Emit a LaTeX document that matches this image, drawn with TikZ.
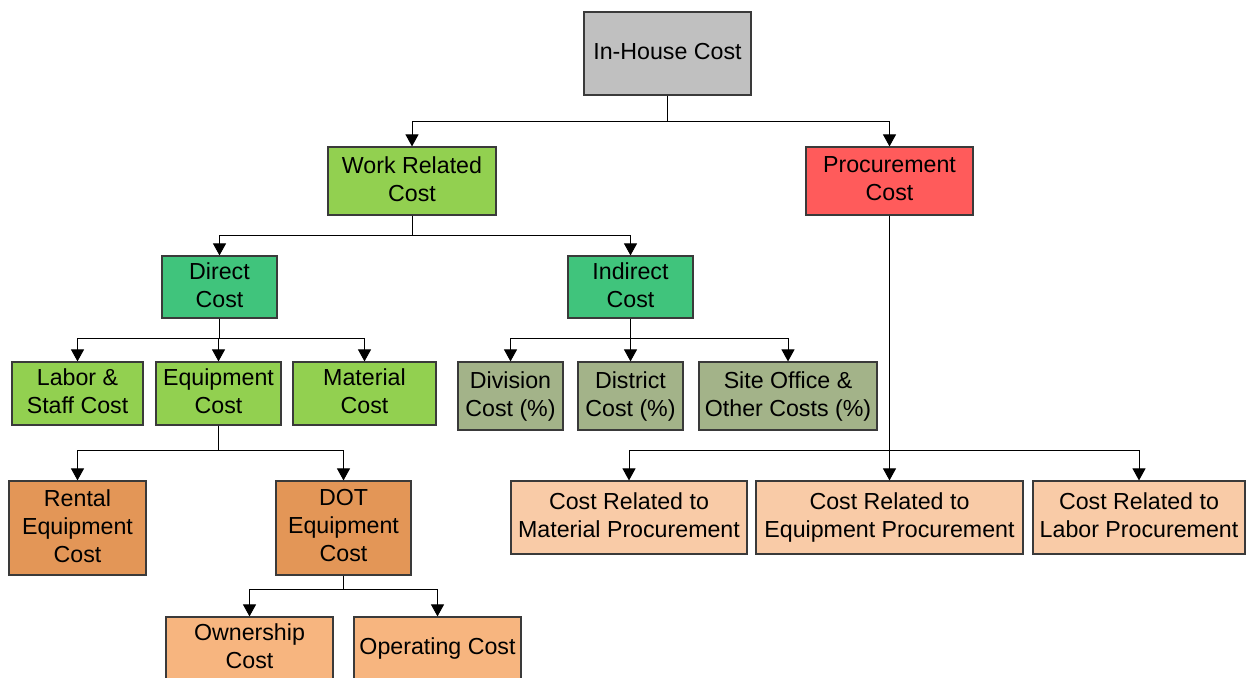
\documentclass[tikz,border=0pt]{standalone}
\usepackage{fontspec}
\setmainfont{Liberation Sans}
\usetikzlibrary{arrows.meta}
\definecolor{cgray}{HTML}{C0C0C0}
\definecolor{cgreen}{HTML}{92D050}
\definecolor{cred}{HTML}{FF5B5B}
\definecolor{cteal}{HTML}{40C47C}
\definecolor{colive}{HTML}{A3B389}
\definecolor{corange}{HTML}{E39657}
\definecolor{clorange}{HTML}{F7B57F}
\definecolor{cpeach}{HTML}{F9CBA7}
\definecolor{cborder}{HTML}{3A3A3A}
\tikzset{
  box/.style={draw=cborder, line width=0.6pt, inner sep=0pt, align=center,
    font=\fontsize{11.6}{14}\selectfont, execute at end node={\vphantom{p}}},
  sz/.style 2 args={minimum width=#1*0.5pt, minimum height=#2*0.5pt},
  arr/.style={draw=black, line width=0.5pt, -{Triangle[width=6.5pt,length=6pt]}},
  ln/.style={draw=black, line width=0.5pt}
}
\begin{document}
\begin{tikzpicture}[x=0.5pt,y=-0.5pt]
\path[use as bounding box, clip] (0,0) rectangle (1247,677);
\fill[white] (0,0) rectangle (1247,677);
% nodes
\node[box, fill=cgray, sz={167}{83}] (ih) at (667.5,53.5) {In-House Cost};
\node[box, fill=cgreen, sz={168}{68}] (wr) at (412,181) {Work Related\\Cost};
\node[box, fill=cred, sz={167}{68}] (pc) at (889.5,181) {Procurement\\Cost};
\node[box, fill=cteal, sz={115}{62}] (dc) at (219.5,287) {Direct\\Cost};
\node[box, fill=cteal, sz={125}{62}] (ic) at (630.5,287) {Indirect\\Cost};
\node[box, fill=cgreen, sz={131}{63}] (ls) at (77.5,393.5) {Labor \&\\Staff Cost};
\node[box, fill=cgreen, sz={125}{63}] (eq) at (218.5,393.5) {Equipment\\Cost};
\node[box, fill=cgreen, sz={143}{63}] (mt) at (364.5,393.5) {Material\\Cost};
\node[box, fill=colive, sz={105}{68}] (dv) at (510.5,396) {Division\\Cost (\%)};
\node[box, fill=colive, sz={105}{68}] (ds) at (630.5,396) {District\\Cost (\%)};
\node[box, fill=colive, sz={178}{68}] (so) at (788,396) {Site Office \&\\Other Costs (\%)};
\node[box, fill=corange, sz={137}{94}] (re) at (77.5,528) {Rental\\Equipment\\Cost};
\node[box, fill=corange, sz={135}{94}] (dot) at (343.5,528) {DOT\\Equipment\\Cost};
\node[box, fill=clorange, sz={167}{63}] (ow) at (249.5,648.5) {Ownership\\Cost};
\node[box, fill=clorange, sz={167}{63}] (op) at (437.5,648.5) {Operating Cost};
\node[box, fill=cpeach, sz={236}{73}] (mp) at (629,517.5) {Cost Related to\\Material Procurement};
\node[box, fill=cpeach, sz={267}{73}] (ep) at (889.5,517.5) {Cost Related to\\Equipment Procurement};
\node[box, fill=cpeach, sz={212}{73}] (lp) at (1139,517.5) {Cost Related to\\Labor Procurement};
% bus coordinates
\coordinate (b1) at (667.5,121);
\coordinate (b2) at (412,235);
\coordinate (b3) at (219.5,338);
\coordinate (b4) at (630.5,338);
\coordinate (b5) at (218.5,450);
\coordinate (b6) at (343.5,589);
\coordinate (b7) at (889.5,450);
% connectors
\draw[arr] (ih.south) -- (b1) -| (wr.north);
\draw[arr] (ih.south) -- (b1) -| (pc.north);
\draw[arr] (wr.south) -- (b2) -| (dc.north);
\draw[arr] (wr.south) -- (b2) -| (ic.north);
\draw[arr] (dc.south) -- (b3) -| (ls.north);
\draw[arr] (dc.south) -- (b3) -| (eq.north);
\draw[arr] (dc.south) -- (b3) -| (mt.north);
\draw[arr] (ic.south) -- (b4) -| (dv.north);
\draw[arr] (ic.south) -- (b4) -| (ds.north);
\draw[arr] (ic.south) -- (b4) -| (so.north);
\draw[arr] (eq.south) -- (b5) -| (re.north);
\draw[arr] (eq.south) -- (b5) -| (dot.north);
\draw[arr] (dot.south) -- (b6) -| (ow.north);
\draw[arr] (dot.south) -- (b6) -| (op.north);
\draw[arr] (pc.south) -- (b7) -| (mp.north);
\draw[arr] (pc.south) -- (b7) -| (ep.north);
\draw[arr] (pc.south) -- (b7) -| (lp.north);
\end{tikzpicture}
\end{document}
